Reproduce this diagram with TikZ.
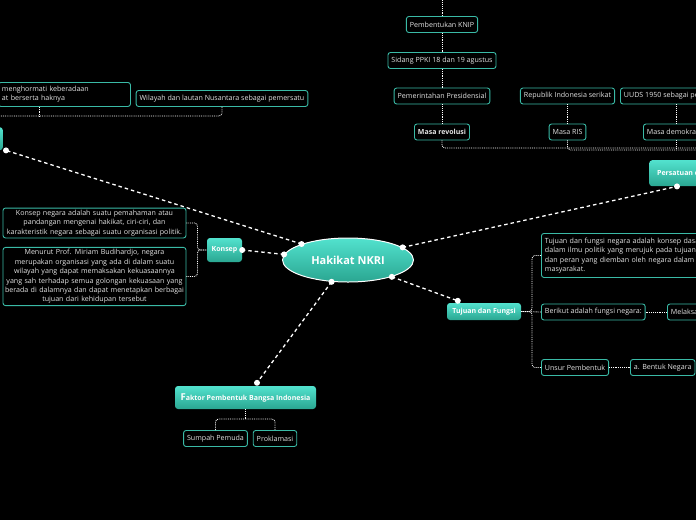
\documentclass[tikz,border=0pt]{standalone}
\usepackage{fontspec}
\setmainfont{Open Sans}
\usetikzlibrary{shapes.geometric}
\definecolor{tealLine}{RGB}{58,186,166}
\definecolor{tealTop}{RGB}{82,226,206}
\definecolor{tealBot}{RGB}{42,166,145}
\definecolor{txtGray}{RGB}{228,228,228}
\tikzset{box/.style={draw=tealLine,fill=black,line width=.9pt,rounded corners=2.5pt,text=txtGray,
   font=\fontsize{7.1}{9.4}\selectfont,inner xsep=3.5pt,inner ysep=2pt,minimum height=16pt},
 topic/.style={top color=tealTop,bottom color=tealBot,rounded corners=3pt,text=white,
   font=\bfseries\fontsize{7}{9}\selectfont,inner sep=3pt},
 link/.style={draw=white,densely dotted,line width=.85pt},
 branch/.style={draw=white,dash pattern=on 3.5pt off 3pt,line width=1.3pt},
 every picture/.style={line join=round}}
\begin{document}
\begin{tikzpicture}[x=1pt,y=-1pt]
\fill[black] (0,0) rectangle (696,520);
\useasboundingbox (0,0) rectangle (696,520);
\clip (0,0) rectangle (696,520);
% pusat dan cabang utama
\node[ellipse,draw=white,line width=1pt,top color=tealTop,bottom color=tealBot,minimum width=131,minimum height=44,
  text=white,font=\bfseries\fontsize{11}{13}\selectfont] (hak) at (348,260) {Hakikat NKRI};
\node[topic,minimum width=35,minimum height=24] (konsep) at (224.5,250) {Konsep};
\node[topic,minimum width=74,minimum height=17] (tujuan) at (484,311.5) {Tujuan dan Fungsi};
\node[topic,minimum width=141,minimum height=23] (faktor) at (245.5,397.5) {{\fontsize{9.5}{9}\selectfont F}aktor Pembentuk Bangsa Indonesia};
\node[topic,anchor=north west,minimum height=26,inner xsep=8pt] (satu) at (649,160) {Persatuan dan Kesatuan};
\node[topic,anchor=north east,minimum width=80,minimum height=23] (kiri) at (3,127) {};
% konsep
\node[box,inner xsep=1pt,text width=181,align=center] (kon1) at (94.5,223) {Konsep negara adalah suatu pemahaman atau\\pandangan mengenai hakikat, ciri-ciri, dan\\karakteristik negara sebagai suatu organisasi politik.};
\node[box,inner xsep=1pt,text width=181,align=center] (kon2) at (94.5,276.5) {Menurut Prof. Miriam Budihardjo, negara\\merupakan organisasi yang ada di dalam suatu\\wilayah yang dapat memaksakan kekuasaannya\\yang sah terhadap semua golongan kekuasaan yang\\berada di dalamnya dan dapat menetapkan berbagai\\tujuan dari kehidupan tersebut};
% kiri atas
\node[box,anchor=north west,minimum width=132,minimum height=24,text width=125,align=left] (adat) at (-2,82) {menghormati keberadaan\\at berserta haknya};
\node[box] (wil) at (222,98.5) {Wilayah dan lautan Nusantara sebagai pemersatu};
% persatuan
\node[box] (knip) at (442,24.5) {Pembentukan KNIP};
\node[box] (ppki) at (442,60.5) {Sidang PPKI 18 dan 19 agustus};
\node[box] (pres) at (442,96) {Pemerintahan Presidensial};
\node[box,font=\bfseries\fontsize{7}{9}\selectfont] (rev) at (442,132) {Masa revolusi};
\node[box] (rise) at (567.5,96) {Republik Indonesia serikat};
\node[box] (ris) at (567.5,132) {Masa RIS};
\node[box,anchor=west] (uuds) at (620,96) {UUDS 1950 sebagai pengganti};
\node[box,anchor=west] (demok) at (643,132) {Masa demokrasi liberal};
% tujuan
\node[box,anchor=north west,text width=170,align=left,minimum height=44] (t1) at (541,233) {Tujuan dan fungsi negara adalah konsep dasar\\dalam ilmu politik yang merujuk pada tujuan\\dan peran yang diemban oleh negara dalam\\masyarakat.};
\node[box,anchor=west] (t2) at (541,312) {Berikut adalah fungsi negara:};
\node[box,anchor=west] (t3) at (667,312) {Melaksanakan ketertiban};
\node[box,anchor=west] (t4) at (541,367.5) {Unsur Pembentuk};
\node[box,anchor=west] (t5) at (630,367.5) {a. Bentuk Negara};
% faktor
\node[box] (sumpah) at (215.5,438.5) {Sumpah Pemuda};
\node[box] (prok) at (275,438.5) {Proklamasi};
\coordinate (atas) at (0,-5);
\coordinate (ujung) at (720,148);
\coordinate (ujung2) at (720,150);
\coordinate (tepi) at (-20,116);
% garis cabang utama
\draw[branch] (hak.161) -- ([xshift=3]kiri.south east);
\draw[branch] (hak.175) -- (konsep.east);
\draw[branch] (hak.13) -- ([xshift=28]satu.south west);
\draw[branch] (hak.339) -- ([xshift=11,yshift=2]tujuan.north west);
\draw[branch] (hak.233) -- ([xshift=11.5,yshift=3]faktor.north);
\fill[white] (hak.161) circle (3pt) (hak.175) circle (3pt) (hak.13) circle (3pt) (hak.339) circle (3pt) (hak.233) circle (3pt);
\fill[white] ([xshift=3]kiri.south east) circle (3pt) (konsep.east) circle (3pt) ([xshift=28]satu.south west) circle (3pt)
  ([xshift=11,yshift=2]tujuan.north west) circle (3pt) ([xshift=11.5,yshift=3]faktor.north) circle (3pt);
% garis anak
\draw[link,rounded corners=3] (kon1.east) -- ++(11,0) |- (konsep.west);
\draw[link,rounded corners=3] (kon2.east) -- ++(11,0) |- (konsep.west);
\draw[link,rounded corners=3] (wil.south) |- (tepi);
\draw[link] ([xshift=41]adat.south west) -- ++(0,10);
\draw[link] (knip.north) -- (knip.north |- atas);
\draw[link] (knip.south) -- (ppki.north);
\draw[link] (ppki.south) -- (pres.north);
\draw[link] (pres.south) -- (rev.north);
\draw[link,rounded corners=3] (rev.south) |- (ujung);
\draw[link] (rise.south) -- (ris.north);
\draw[link,rounded corners=3] (ris.south) |- (ujung2);
\draw[link] ([xshift=56]uuds.south west) -- ([xshift=33]demok.north west);
\draw[link] ([xshift=33]demok.south west) -- ++(0,9);
\draw[link,rounded corners=3] (t1.west) -- ++(-9,0) |- (tujuan.east);
\draw[link] (t2.west) -- (tujuan.east);
\draw[link,rounded corners=3] (t4.west) -- ++(-9,0) |- (tujuan.east);
\draw[link] (t2.east) -- (t3.west);
\draw[link] (t4.east) -- (t5.west);
\draw[link] (faktor.south) -- ++(0,11);
\draw[link,rounded corners=3] (sumpah.north) -- ++(0,-11) -| (prok.north);
\end{tikzpicture}
\end{document}
